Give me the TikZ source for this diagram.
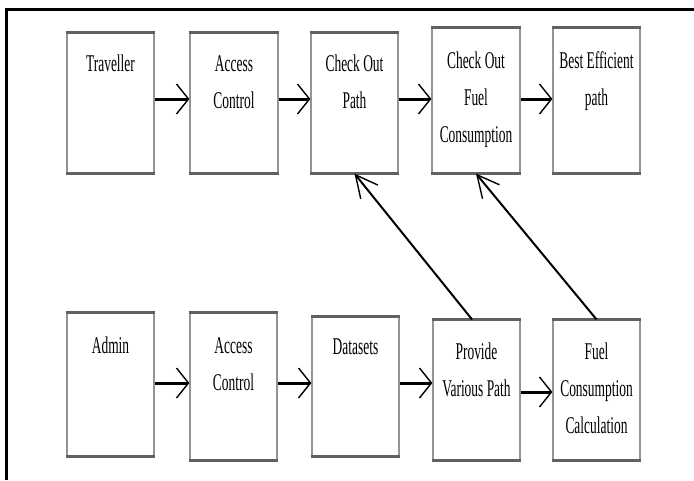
\documentclass[tikz,border=0pt]{standalone}
\usepackage{fontspec}
\setmainfont{Liberation Serif}
\newfontfamily\condfont{Liberation Serif}[FakeStretch=0.56]
\usetikzlibrary{arrows.meta}
\begin{document}
\begin{tikzpicture}[x=1pt,y=-1pt,
  box/.style={draw=black!42, line width=1.2pt, fill=white, inner sep=0pt},
  edgeline/.style={draw=black!62, line width=2.4pt},
  txt/.style={anchor=north, inner sep=0pt, align=center, font=\condfont\fontsize{24}{37}\selectfont, text=black},
  harrow/.style={line width=3pt, -{Straight Barb[length=12pt,width=30pt,line width=1.4pt]}},
  darrow/.style={line width=2pt, -{Straight Barb[length=22pt,width=22pt,line width=1.4pt]}},
  frameline/.style={line width=3pt, line join=miter}]
\useasboundingbox (0,0) rectangle (694,480);
% frame
\coordinate (fa) at (6,480);
\coordinate (fb) at (6,9);
\coordinate (fc) at (694,9);
\draw[frameline] (fa) -- (fb) -- (fc);
% top row boxes
\node[box, minimum width=87, minimum height=140] (T1) at (110.5,103) {};
\node[box, minimum width=88, minimum height=140] (T2) at (234,103) {};
\node[box, minimum width=87, minimum height=140] (T3) at (354.5,103) {};
\node[box, minimum width=88, minimum height=145] (T4) at (476,100.5) {};
\node[box, minimum width=87, minimum height=145] (T5) at (596.5,100.5) {};
% bottom row boxes
\node[box, minimum width=87, minimum height=143] (B1) at (110.5,384.5) {};
\node[box, minimum width=87, minimum height=147] (B2) at (233.5,386.5) {};
\node[box, minimum width=87, minimum height=139] (B3) at (355.5,386.5) {};
\node[box, minimum width=87, minimum height=140] (B4) at (476.5,390) {};
\node[box, minimum width=87, minimum height=140] (B5) at (596.5,390) {};
% darker top and bottom edges
\foreach \n in {T1,T2,T3,T4,T5,B1,B2,B3,B4,B5}{
  \draw[edgeline] (\n.north west) -- (\n.north east);
  \draw[edgeline] (\n.south west) -- (\n.south east);
}
% texts
\node[txt] (t1) at (T1.north |- 0,55) {Traveller};
\node[txt] (t2) at (T2.north |- 0,55) {Access\\Control};
\node[txt] (t3) at (T3.north |- 0,55) {Check Out\\Path};
\node[txt] (t4) at (T4.north |- 0,52) {Check Out\\Fuel\\Consumption};
\node[txt] (t5) at (T5.north |- 0,51) {Best Efficient\\path};
\node[txt] (b1) at (B1.north |- 0,337) {Admin};
\node[txt] (b2) at (B2.north |- 0,337) {Access\\Control};
\node[txt] (b3) at (B3.north |- 0,339) {Datasets};
\node[txt] (b4) at (B4.north |- 0,343) {Provide\\Various Path};
\node[txt] (b5) at (B5.north |- 0,343) {Fuel\\Consumption\\Calculation};
% horizontal arrows
\draw[harrow] (T1.east |- 0,99) -- (T2.west |- 0,99);
\draw[harrow] (T2.east |- 0,99) -- (T3.west |- 0,99);
\draw[harrow] (T3.east |- 0,99) -- (T4.west |- 0,99);
\draw[harrow] (T4.east |- 0,99) -- (T5.west |- 0,99);
\draw[harrow] (B1.east |- 0,383) -- (B2.west |- 0,383);
\draw[harrow] (B2.east |- 0,383) -- (B3.west |- 0,383);
\draw[harrow] (B3.east |- 0,383) -- (B4.west |- 0,383);
\draw[harrow] (B4.east |- 0,392) -- (B5.west |- 0,392);
% diagonal arrows
\draw[darrow] (B4.north -| 472,0) -- (T3.south);
\draw[darrow] (B5.north) -- (T4.south);
\end{tikzpicture}
\end{document}
